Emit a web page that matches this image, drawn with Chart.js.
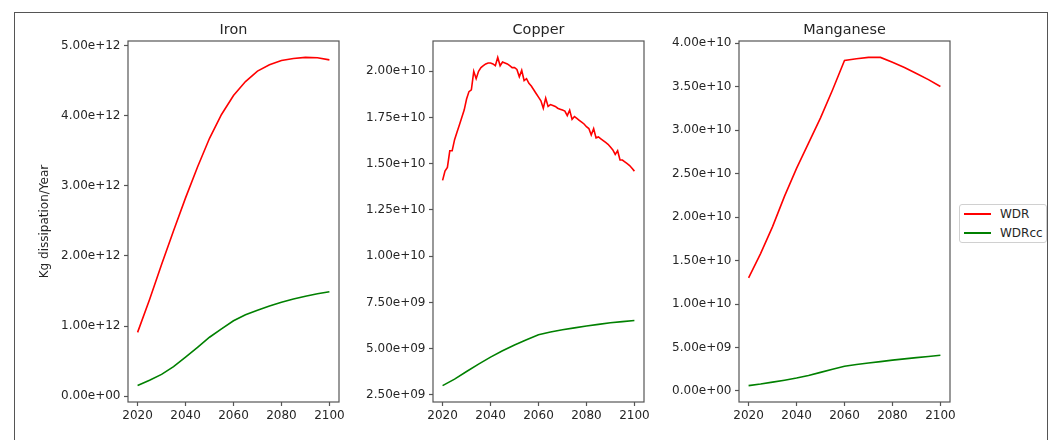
<!DOCTYPE html>
<html>
<head>
<meta charset="utf-8">
<script src="https://cdn.jsdelivr.net/npm/chart.js@4.4.1/dist/chart.umd.min.js"></script>
<style>
  html, body { margin: 0; padding: 0; background: #ffffff; width: 1054px; height: 440px; overflow: hidden; }
  body { position: relative; font-family: 'DejaVu Sans', sans-serif; }
  #frame { position: absolute; left: 14px; top: 12px; width: 1034px; height: 520px; box-sizing: border-box; border: 1.5px solid #555; }
  canvas { position: absolute; top: 12px; }
  #legend { position: absolute; left: 959px; top: 204px; width: 88px; height: 39px; box-sizing: border-box; border: 1px solid #d0d0d0; border-radius: 3px; background: #fff; z-index: 5; }
  .lg-line { position: absolute; left: 4px; width: 27px; height: 2px; }
  .lg-text { position: absolute; left: 40px; font-size: 12px; line-height: 14px; color: #262626; }
</style>
</head>
<body>
<div id="frame"></div>
<canvas id="ironChart" width="340" height="428" style="left:20px"></canvas>
<canvas id="copperChart" width="340" height="428" style="left:325px"></canvas>
<canvas id="manganeseChart" width="330" height="428" style="left:631px"></canvas>
<div id="legend">
  <div class="lg-line" style="top:8px;background:#ff0000"></div>
  <div class="lg-text" id="lgWDR" style="top:2px"></div>
  <div class="lg-line" style="top:27px;background:#008000"></div>
  <div class="lg-text" id="lgWDRcc" style="top:21px"></div>
</div>
<script>
// ---------------- data ----------------
const seriesNames = ['WDR', 'WDRcc'];
const panelTitles = ['Iron', 'Copper', 'Manganese'];
const yAxisTitle = 'Kg dissipation/Year';

const years5 = [2020, 2025, 2030, 2035, 2040, 2045, 2050, 2055, 2060, 2065, 2070, 2075, 2080, 2085, 2090, 2095, 2100];
const yearsAnnual = [
  2020, 2021, 2022, 2023, 2024, 2025, 2026, 2027, 2028, 2029,
  2030, 2031, 2032, 2033, 2034, 2035, 2036, 2037, 2038, 2039,
  2040, 2041, 2042, 2043, 2044, 2045, 2046, 2047, 2048, 2049,
  2050, 2051, 2052, 2053, 2054, 2055, 2056, 2057, 2058, 2059,
  2060, 2061, 2062, 2063, 2064, 2065, 2066, 2067, 2068, 2069,
  2070, 2071, 2072, 2073, 2074, 2075, 2076, 2077, 2078, 2079,
  2080, 2081, 2082, 2083, 2084, 2085, 2086, 2087, 2088, 2089,
  2090, 2091, 2092, 2093, 2094, 2095, 2096, 2097, 2098, 2099,
  2100
];

const ironWDR = [0.91e12, 1.38e12, 1.88e12, 2.36e12, 2.83e12, 3.27e12, 3.68e12, 4.02e12, 4.29e12,
  4.49e12, 4.64e12, 4.73e12, 4.79e12, 4.82e12, 4.835e12, 4.83e12, 4.80e12];
const ironWDRcc = [0.15e12, 0.225e12, 0.31e12, 0.42e12, 0.555e12, 0.695e12, 0.84e12, 0.96e12, 1.075e12,
  1.16e12, 1.225e12, 1.285e12, 1.34e12, 1.385e12, 1.425e12, 1.46e12, 1.49e12];

const copperWDR = [
  1.41e10, 1.46e10, 1.48e10, 1.57e10, 1.57e10, 1.63e10, 1.67e10, 1.71e10, 1.75e10, 1.79e10,
  1.85e10, 1.89e10, 1.90e10, 2.00e10, 1.96e10, 2.00e10, 2.02e10, 2.03e10, 2.04e10, 2.045e10,
  2.045e10, 2.04e10, 2.03e10, 2.075e10, 2.03e10, 2.05e10, 2.045e10, 2.04e10, 2.03e10, 2.02e10,
  2.02e10, 2.01e10, 1.97e10, 2.005e10, 1.95e10, 1.96e10, 1.935e10, 1.92e10, 1.90e10, 1.88e10,
  1.86e10, 1.84e10, 1.80e10, 1.855e10, 1.81e10, 1.82e10, 1.815e10, 1.81e10, 1.80e10, 1.795e10,
  1.79e10, 1.785e10, 1.76e10, 1.79e10, 1.74e10, 1.755e10, 1.745e10, 1.735e10, 1.725e10, 1.715e10,
  1.70e10, 1.69e10, 1.655e10, 1.69e10, 1.64e10, 1.645e10, 1.635e10, 1.625e10, 1.615e10, 1.605e10,
  1.59e10, 1.575e10, 1.55e10, 1.57e10, 1.52e10, 1.52e10, 1.51e10, 1.50e10, 1.49e10, 1.475e10,
  1.46e10
];
const copperWDRcc = [3.0e9, 3.35e9, 3.76e9, 4.16e9, 4.54e9, 4.88e9, 5.2e9, 5.48e9, 5.75e9,
  5.9e9, 6.02e9, 6.12e9, 6.22e9, 6.31e9, 6.4e9, 6.46e9, 6.52e9];

const manganeseWDR = [13.0e9, 15.8e9, 18.9e9, 22.4e9, 25.6e9, 28.5e9, 31.4e9, 34.6e9, 38.0e9,
  38.2e9, 38.35e9, 38.35e9, 37.8e9, 37.2e9, 36.5e9, 35.8e9, 35.0e9];
const manganeseWDRcc = [0.62e9, 0.8e9, 1.02e9, 1.24e9, 1.49e9, 1.78e9, 2.14e9, 2.5e9, 2.85e9,
  3.04e9, 3.22e9, 3.38e9, 3.55e9, 3.69e9, 3.83e9, 3.97e9, 4.1e9];

const xTicks = [2020, 2040, 2060, 2080, 2100];
const ironYTicks = [0, 1e12, 2e12, 3e12, 4e12, 5e12];
const copperYTicks = [2.5e9, 5e9, 7.5e9, 1e10, 1.25e10, 1.5e10, 1.75e10, 2e10];
const manganeseYTicks = [0, 5e9, 1e10, 1.5e10, 2e10, 2.5e10, 3e10, 3.5e10, 4e10];

// ---------------- styling ----------------
const FONT = "'DejaVu Sans', sans-serif";
const TEXT = '#262626';
const SPINE = '#555555';
Chart.defaults.font.family = FONT;
Chart.defaults.color = TEXT;

document.getElementById('lgWDR').textContent = seriesNames[0];
document.getElementById('lgWDRcc').textContent = seriesNames[1];

function sci(v) {
  return Number(v).toExponential(2).replace(/e([+-])(\d)$/, 'e$10$2');
}

const framePlugin = {
  id: 'frameBox',
  afterDatasetsDraw(chart, args, opts) {
    const a = chart.chartArea;
    const ctx = chart.ctx;
    ctx.save();
    ctx.strokeStyle = SPINE;
    ctx.lineWidth = 1.2;
    ctx.strokeRect(a.left, a.top, a.right - a.left, a.bottom - a.top);
    // panel title, centred over the plot area
    ctx.fillStyle = TEXT;
    ctx.font = "14.4px " + FONT;
    ctx.textAlign = 'center';
    ctx.textBaseline = 'alphabetic';
    ctx.fillText(opts.text, (a.left + a.right) / 2, a.top - 7.5);
    ctx.restore();
  }
};

function pairs(xs, ys) { return xs.map((x, i) => ({ x: x, y: ys[i] })); }

function makePanel(id, title, xRed, red, xGreen, green, yTicks, showYTitle) {
  const all = red.concat(green);
  const lo = Math.min.apply(null, all), hi = Math.max.apply(null, all);
  const m = (hi - lo) * 0.05;
  const canvas = document.getElementById(id);
  return new Chart(canvas, {
    type: 'line',
    data: {
      datasets: [
        { label: seriesNames[0], data: pairs(xRed, red), borderColor: '#ff0000', borderWidth: 1.6, pointRadius: 0, tension: 0, fill: false },
        { label: seriesNames[1], data: pairs(xGreen, green), borderColor: '#008000', borderWidth: 1.6, pointRadius: 0, tension: 0, fill: false }
      ]
    },
    options: {
      responsive: false,
      animation: false,
      devicePixelRatio: 1,
      layout: { padding: { left: 0, top: 29, bottom: 0, right: canvas.width - 319 } },
      plugins: {
        legend: { display: false },
        tooltip: { enabled: false },
        title: { display: false },
        frameBox: { text: title }
      },
      scales: {
        x: {
          type: 'linear', min: 2016, max: 2104,
          afterBuildTicks: s => { s.ticks = xTicks.map(v => ({ value: v })); },
          afterFit: s => { s.height = 38; },
          border: { display: false },
          grid: { display: true, drawOnChartArea: false, drawTicks: true, tickLength: 4, tickColor: SPINE, tickWidth: 1.2 },
          ticks: { color: TEXT, font: { size: 12 }, padding: 3, maxRotation: 0, callback: v => String(v) }
        },
        y: {
          type: 'linear', min: lo - m, max: hi + m,
          afterBuildTicks: s => { s.ticks = yTicks.map(v => ({ value: v })); },
          afterFit: s => { s.width = 108; },
          border: { display: false },
          grid: { display: true, drawOnChartArea: false, drawTicks: true, tickLength: 4, tickColor: SPINE, tickWidth: 1.2 },
          ticks: { color: TEXT, font: { size: 12 }, padding: 3.5, callback: v => sci(v) },
          title: {
            display: showYTitle, text: yAxisTitle, color: TEXT,
            font: { size: 12 }, padding: { top: 17.8, bottom: 0 }
          }
        }
      }
    },
    plugins: [framePlugin]
  });
}

makePanel('ironChart', panelTitles[0], years5, ironWDR, years5, ironWDRcc, ironYTicks, true);
makePanel('copperChart', panelTitles[1], yearsAnnual, copperWDR, years5, copperWDRcc, copperYTicks, false);
makePanel('manganeseChart', panelTitles[2], years5, manganeseWDR, years5, manganeseWDRcc, manganeseYTicks, false);
</script>
</body>
</html>
